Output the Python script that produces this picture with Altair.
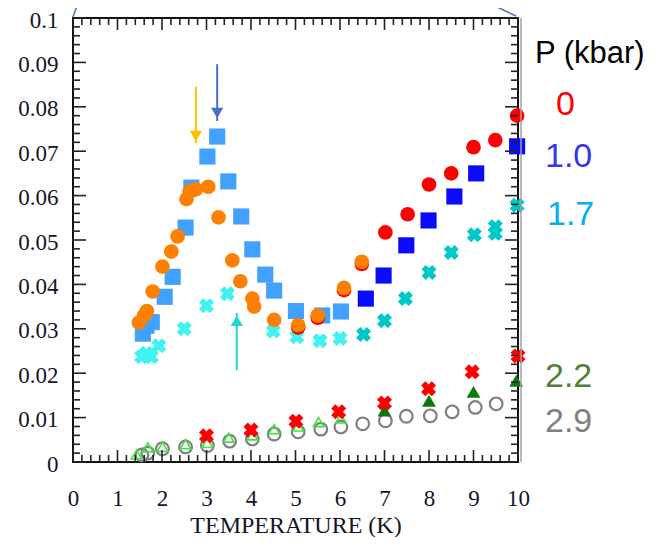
import altair as alt
import pandas as pd

# ---------------- data ----------------
# P = 0 kbar, low-T run (orange circles)
orange_T = [1.48, 1.60, 1.66, 1.79, 2.01, 2.21, 2.35, 2.55, 2.62, 2.68, 2.76,
            3.04, 3.27, 3.58, 3.76, 4.03, 4.07, 4.52, 5.06, 5.50, 6.09, 6.49]
orange_v = [0.0314, 0.0330, 0.0340, 0.0384, 0.0440, 0.0474, 0.0508, 0.0592, 0.0609,
            0.0612, 0.0614, 0.0620, 0.0551, 0.0454, 0.0407, 0.0368, 0.0350, 0.0320,
            0.0308, 0.0330, 0.0392, 0.0451]
# P = 0 kbar, high-T run (red circles)
red_T = [5.06, 5.50, 6.09, 6.49, 7.02, 7.52, 8.00, 8.50, 9.00, 9.49, 9.98]
red_v = [0.0303, 0.0325, 0.0387, 0.0446, 0.0517, 0.0558, 0.0625, 0.0650, 0.0709, 0.0725, 0.0780]
# P = 1.0 kbar, low-T run (light blue squares)
lblue_T = [1.57, 1.65, 1.77, 2.06, 2.24, 2.53, 2.66, 3.02, 3.24, 3.49, 3.78, 4.03,
           4.32, 4.52, 5.01, 5.60, 6.02]
lblue_v = [0.0289, 0.0307, 0.0315, 0.0372, 0.0417, 0.0528, 0.0618, 0.0688, 0.0733,
           0.0632, 0.0553, 0.0479, 0.0422, 0.0386, 0.0340, 0.0330, 0.0339]
# P = 1.0 kbar, high-T run (blue squares)
blue_T = [6.58, 6.98, 7.49, 7.99, 8.57, 9.06, 9.98]
blue_v = [0.0368, 0.0420, 0.0488, 0.0544, 0.0598, 0.0650, 0.0711]
# P = 1.7 kbar, low-T run (light cyan crosses)
lcyan_T = [1.54, 1.65, 1.76, 1.93, 2.50, 3.00, 3.47, 4.50, 5.03, 5.55, 6.00]
lcyan_v = [0.0237, 0.0245, 0.0237, 0.0262, 0.0300, 0.0352, 0.0379, 0.0295, 0.0282,
           0.0273, 0.0278]
# P = 1.7 kbar, high-T run (cyan crosses)
cyan_T = [6.53, 7.00, 7.47, 8.00, 8.50, 9.02, 9.49, 9.49, 9.98]
cyan_v = [0.0287, 0.0318, 0.0368, 0.0427, 0.0472, 0.0512, 0.0530, 0.0515, 0.0578]
# red crosses
redx_T = [3.00, 4.00, 5.01, 5.97, 7.00, 7.99, 8.97, 10.00]
redx_v = [0.0059, 0.0072, 0.0092, 0.0113, 0.0133, 0.0165, 0.0203, 0.0239]
# P = 2.2 kbar (green triangles)
gtri_T = [7.00, 8.00, 9.00, 9.96]
gtri_v = [0.0116, 0.0138, 0.0158, 0.0183]
ltri_T = [1.43, 1.68, 2.01, 2.53, 3.02, 3.50, 4.03, 4.52, 5.06, 5.52, 6.02]
ltri_v = [0.0017, 0.0033, 0.0034, 0.0040, 0.0043, 0.0055, 0.0060, 0.0074, 0.0080,
          0.0090, 0.0098]
# P = 2.9 kbar (grey open circles)
gray_T = [1.55, 1.68, 2.01, 2.53, 3.02, 3.52, 4.03, 4.52, 5.06, 5.57, 6.02, 6.51,
          7.02, 7.49, 8.03, 8.52, 9.04, 9.51]
gray_v = [0.0016, 0.0020, 0.0030, 0.0034, 0.0037, 0.0047, 0.0052, 0.0063, 0.0068,
          0.0074, 0.0079, 0.0086, 0.0093, 0.0103, 0.0104, 0.0113, 0.0123, 0.0131]

# arrows (temperature, tail value, tip value, head value)
arrow_T = [2.76, 3.24, 3.68]
arrow_tail = [0.0845, 0.0896, 0.0207]
arrow_tip = [0.0718, 0.0768, 0.0336]
arrow_head = [0.0734, 0.0786, 0.0318]
arrow_color = ["#ffc000", "#4472c4", "#1ed6d6"]
arrow_shape = ["triangle-down", "triangle-down", "triangle-up"]

# axis ticks
x_major = list(range(0, 11))
x_minor = [round(i * 0.2, 2) for i in range(51) if i % 5]
y_major = [0, 0.01, 0.02, 0.03, 0.04, 0.05, 0.06, 0.07, 0.08, 0.09, 0.1]
y_minor = [round(i * 0.002, 3) for i in range(51) if i % 5]

# pressure labels
p_title = "P (kbar)"
p_labels = ["0", "1.0", "1.7", "2.2", "2.9"]
p_colors = ["#ff0000", "#3636f0", "#00b0f0", "#548235", "#808080"]

# ---------------- chart ----------------
W, H = 445, 444
xs = alt.Scale(domain=[0, 10], nice=False, zero=False)
ys = alt.Scale(domain=[0, 0.1], nice=False, zero=False)
SERIF = "Liberation Serif"
LABEL_C = "#141428"

XA = alt.Axis(values=x_major, format="d", ticks=False, domain=False, grid=False,
              labelFont=SERIF, labelFontSize=23, labelColor=LABEL_C,
              labelPadding=25, labelFlush=False, labelOverlap=False,
              title="TEMPERATURE (K)", titleFont=SERIF, titleFontSize=24,
              titleFontWeight="normal", titleColor=LABEL_C, titlePadding=3)
YA = alt.Axis(values=y_major, format="~g", ticks=False, domain=False, grid=False,
              labelFont=SERIF, labelFontSize=23, labelColor=LABEL_C,
              labelPadding=15, labelOffset=2, labelFlush=False, labelOverlap=False,
              title=None)


def X(field):
    return alt.X(field, scale=xs, axis=XA)


def Y(field):
    return alt.Y(field, scale=ys, axis=YA)


def df(T, v):
    return pd.DataFrame({"T": T, "v": v})


def pts(T, v, shape, color, size, filled=True, angle=0, sw=1.8):
    if filled:
        mk = alt.Chart(df(T, v)).mark_point(shape=shape, filled=True, size=size,
                                             color=color, opacity=1, angle=angle,
                                             strokeWidth=0)
    else:
        mk = alt.Chart(df(T, v)).mark_point(shape=shape, filled=False, size=size,
                                             color=color, opacity=1, angle=angle,
                                             strokeWidth=sw)
    return mk.encode(x=X("T:Q"), y=Y("v:Q"))


layers = []
layers.append(pts(gray_T, gray_v, "circle", "#808080", 160, filled=False, sw=2.2))
layers.append(pts(ltri_T, ltri_v, "triangle-up", "#44e044", 110, filled=False, sw=1.6))
layers.append(pts(gtri_T, gtri_v, "triangle-up", "#0a7a0a", 190))
layers.append(pts(redx_T, redx_v, "cross", "#ff0000", 230, angle=45))
layers.append(pts(lcyan_T, lcyan_v, "cross", "#40f2f2", 230, angle=45))
layers.append(pts(cyan_T, cyan_v, "cross", "#00c8c8", 230, angle=45))
layers.append(pts(lblue_T, lblue_v, "square", "#42a0ff", 260))
layers.append(pts(blue_T, blue_v, "square", "#0a0aff", 260))
layers.append(pts(red_T, red_v, "circle", "#ff0000", 215))
layers.append(pts(orange_T, orange_v, "circle", "#ff7f00", 215))

# arrows
arr = pd.DataFrame({"T": arrow_T, "tail": arrow_tail, "tip": arrow_tip,
                    "head": arrow_head, "c": arrow_color, "s": arrow_shape})
layers.append(alt.Chart(arr).mark_rule(strokeWidth=2).encode(
    x=X("T:Q"), y=Y("tail:Q"), y2="tip:Q",
    color=alt.Color("c:N", scale=None)))
layers.append(alt.Chart(arr).mark_point(filled=True, size=150, opacity=1).encode(
    x=X("T:Q"), y=Y("head:Q"),
    color=alt.Color("c:N", scale=None),
    shape=alt.Shape("s:N", scale=None)))


# inward ticks on all four sides
def xticks(vals, y0, y1):
    return alt.Chart(pd.DataFrame({"t": vals})).mark_rule(color="#222222", strokeWidth=1.6).encode(
        x=X("t:Q"), y=alt.value(y0), y2=alt.value(y1))


def yticks(vals, x0, x1):
    return alt.Chart(pd.DataFrame({"t": vals})).mark_rule(color="#222222", strokeWidth=1.6).encode(
        y=Y("t:Q"), x=alt.value(x0), x2=alt.value(x1))


layers += [xticks(x_major, H, H - 12), xticks(x_minor, H, H - 7),
           xticks(x_major, 0, 12), xticks(x_minor, 0, 7),
           yticks(y_major, 0, 13), yticks(y_minor, 0, 7),
           yticks(y_major, W, W - 13), yticks(y_minor, W, W - 7)]

dummy = pd.DataFrame({"a": [0]})
# decorative lines (zoom-inset connectors and grey side line)
layers.append(alt.Chart(dummy).mark_rule(color="#4472c4", strokeWidth=1.5).encode(
    x=alt.value(0), x2=alt.value(6), y=alt.value(-1), y2=alt.value(-18)))
layers.append(alt.Chart(dummy).mark_rule(color="#4472c4", strokeWidth=1.5).encode(
    x=alt.value(443), x2=alt.value(409), y=alt.value(-2), y2=alt.value(-18)))
layers.append(alt.Chart(dummy).mark_rule(color="#a0a0a0", strokeWidth=1.5).encode(
    x=alt.value(448), y=alt.value(0), y2=alt.value(H)))

# pressure legend text
layers.append(alt.Chart(dummy).mark_text(align="left", baseline="alphabetic",
                                         font="Liberation Sans", fontSize=31,
                                         color="#000000").encode(
    x=alt.value(462), y=alt.value(45), text=alt.value(p_title)))
label_x = [483, 472, 474, 472, 472]
label_y = [97, 149, 207, 369, 414]
for lab, col, lx, ly in zip(p_labels, p_colors, label_x, label_y):
    layers.append(alt.Chart(dummy).mark_text(align="left", baseline="alphabetic",
                                             font="Liberation Sans", fontSize=34,
                                             color=col).encode(
        x=alt.value(lx), y=alt.value(ly), text=alt.value(lab)))

chart = alt.layer(*layers).properties(
    width=W, height=H,
    autosize=alt.AutoSizeParams(type="none"),
    padding={"left": 65, "top": 10, "right": 144, "bottom": 75},
    background="white",
).configure_view(stroke="#111111", strokeWidth=2)

chart.save("out.html", embed_options={"renderer": "svg", "actions": False})
